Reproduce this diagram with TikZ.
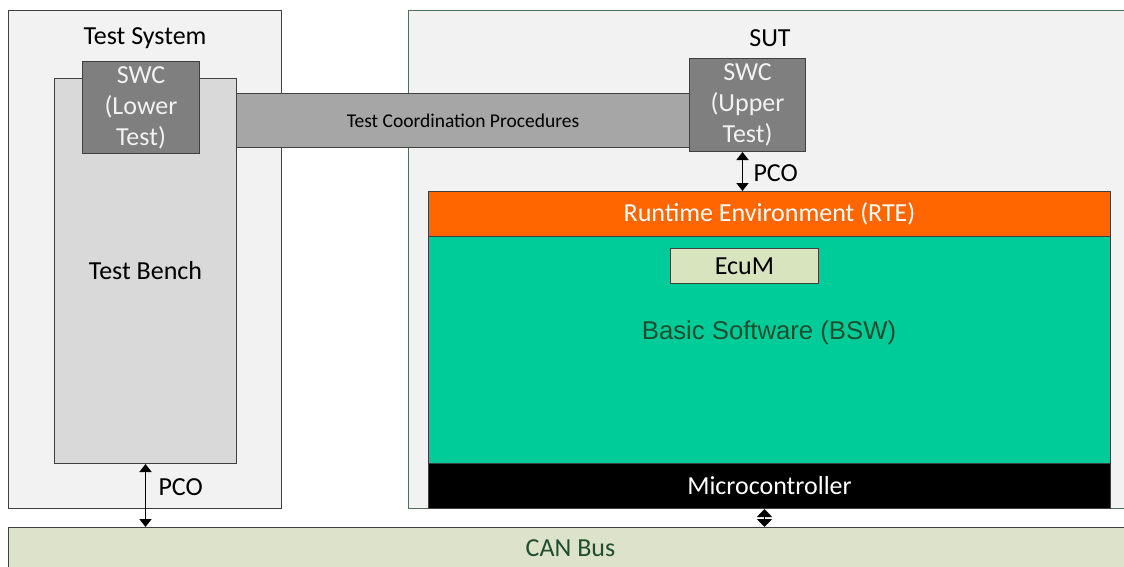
\documentclass[tikz,border=0pt]{standalone}
\usepackage{fontspec}
\setmainfont{Carlito}
\newfontfamily\bswfont{Liberation Sans}
\usetikzlibrary{arrows.meta}

\definecolor{panelgray}{HTML}{F2F2F2}
\definecolor{benchgray}{HTML}{D9D9D9}
\definecolor{swcgray}{HTML}{7F7F7F}
\definecolor{tcpgray}{HTML}{A6A6A6}
\definecolor{rteorange}{HTML}{FF6600}
\definecolor{bswgreen}{HTML}{00CC99}
\definecolor{ecumgreen}{HTML}{D7E4BD}
\definecolor{canbeige}{HTML}{DDE2CB}
\definecolor{darkgreen}{HTML}{1F4E2E}

\begin{document}
\begin{tikzpicture}[x=1pt,y=-1pt,
	box/.style={draw=black!75, line width=1pt, inner sep=0pt, anchor=north west},
	txt/.style={font=\fontsize{26}{31}\selectfont},
	pco/.style={{Triangle[width=12pt,length=8pt]}-{Triangle[width=12pt,length=8pt]}, line width=1.6pt},
	pcoshort/.style={{Triangle[width=15pt,length=8pt]}-{Triangle[width=15pt,length=8pt]}, line width=1.6pt}]
	
	\clip (0,0) rectangle (1124,566);
	
	% the two systems
	\node[box, fill=panelgray, minimum width=273pt, minimum height=498pt] (testsys) at (8,10) {};
	\node[box, draw=darkgreen!80, fill=panelgray, minimum width=730pt, minimum height=498pt] (sut) at (408,10) {};
	\node[txt] (testsyslabel) at (145,38) {Test System};
	\node[txt] (sutlabel) at (770,38) {SUT};
	
	% test system side
	\node[box, fill=benchgray, minimum width=182pt, minimum height=385pt, txt] (bench) at (54,78) {Test Bench};
	\node[box, fill=tcpgray, minimum width=453pt, minimum height=54pt,
		font=\fontsize{19.5}{23}\selectfont] (tcp) at (236,93) {Test Coordination Procedures};
	\node[box, fill=swcgray, minimum width=117pt, minimum height=92pt, txt, align=center,
		text=panelgray] (swclow) at (82,61) {SWC\\(Lower\\Test)};
	
	% SUT side
	\node[box, fill=swcgray, minimum width=116pt, minimum height=93pt, txt, align=center,
		text=panelgray] (swcup) at (689,58) {SWC\\(Upper\\Test)};
	\node[box, fill=rteorange, minimum width=682pt, minimum height=45pt, txt,
		text=white] (rte) at (428,191) {Runtime Environment (RTE)};
	\node[box, fill=bswgreen, minimum width=682pt, minimum height=227pt] (bsw) at (428,236) {};
	\node[font=\bswfont\fontsize{25.7}{30}\selectfont, text=darkgreen] (bswlabel) at (769,333) {Basic Software (BSW)};
	\node[box, fill=ecumgreen, minimum width=148pt, minimum height=35pt, txt] (ecum) at (670,248) {EcuM};
	\node[box, fill=black, minimum width=682pt, minimum height=45pt, txt,
		text=white] (micro) at (428,463) {Microcontroller};
	
	% bus
	\node[box, fill=canbeige, minimum width=1124pt, minimum height=41pt, txt,
		text=darkgreen] (can) at (8,527) {CAN Bus};
	
	% PCO links
	\draw[pco] ([xshift=-5pt]swcup.south) -- ([xshift=-5pt]swcup.south |- rte.north);
	\node[txt, anchor=west] (pcoup) at (750,173) {PCO};
	\draw[pco] (bench.south) -- (bench.south |- can.north);
	\node[txt, anchor=west] (pcolow) at (155,487) {PCO};
	\draw[pcoshort] ([xshift=-5pt]micro.south) -- ([xshift=-5pt]micro.south |- can.north);
	
\end{tikzpicture}
\end{document}
